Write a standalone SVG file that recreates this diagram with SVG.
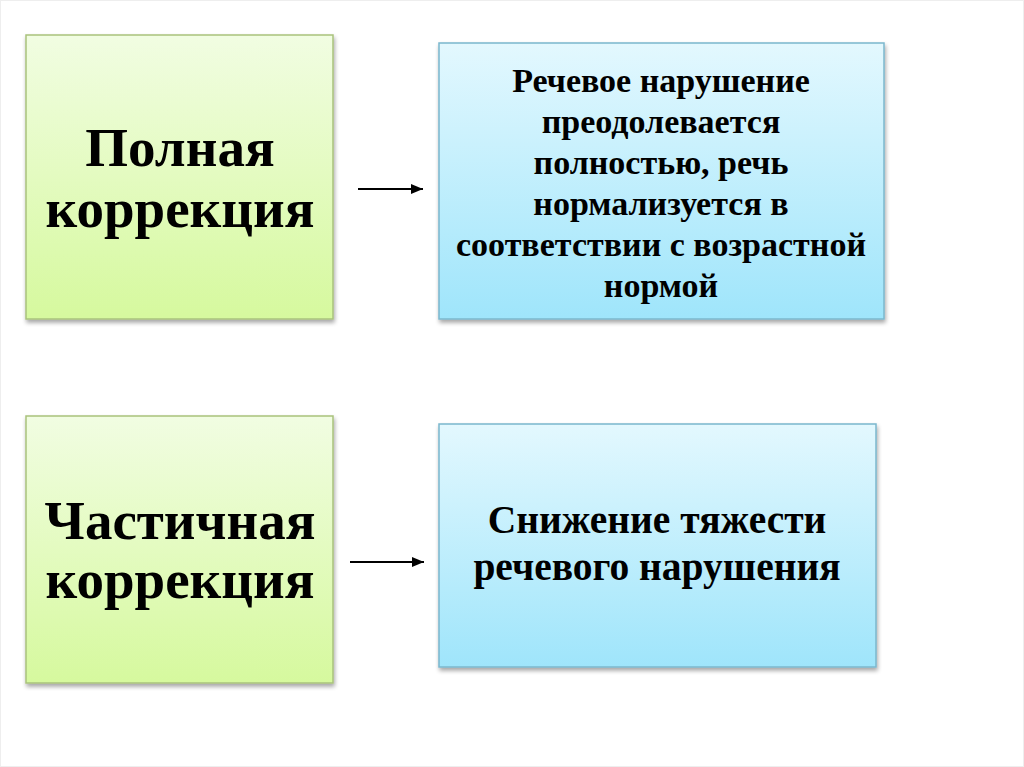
<svg xmlns="http://www.w3.org/2000/svg" width="1024" height="767" viewBox="0 0 1024 767">
<defs>
<linearGradient id="gGreen" x1="0" y1="0" x2="0" y2="1">
<stop offset="0" stop-color="#f1fde2"/>
<stop offset="1" stop-color="#d6f99e"/>
</linearGradient>
<linearGradient id="gBlue" x1="0" y1="0" x2="0" y2="1">
<stop offset="0" stop-color="#e3f8fe"/>
<stop offset="1" stop-color="#9fe5fb"/>
</linearGradient>
<filter id="sh" x="-5%" y="-5%" width="115%" height="115%">
<feGaussianBlur in="SourceAlpha" stdDeviation="2"/>
<feOffset dx="1" dy="3" result="b"/>
<feComponentTransfer><feFuncA type="linear" slope="0.35"/></feComponentTransfer>
<feMerge><feMergeNode/><feMergeNode in="SourceGraphic"/></feMerge>
</filter>
<marker id="ah" viewBox="0 0 12 10" refX="12" refY="5" markerWidth="12" markerHeight="10" markerUnits="userSpaceOnUse" orient="auto">
<path d="M0,0 L12,5 L0,10 z" fill="#000"/>
</marker>
<style>
.green{fill:url(#gGreen);stroke:#a9c27c;stroke-width:1.5}
.blue{fill:url(#gBlue);stroke:#7bb7cd;stroke-width:1.5}
.big{font-family:"Liberation Serif","Times New Roman",serif;font-weight:bold;font-size:55px;fill:#000;text-anchor:middle}
.mid{font-family:"Liberation Serif","Times New Roman",serif;font-weight:bold;font-size:39.5px;fill:#000;text-anchor:middle}
.sm{font-family:"Liberation Serif","Times New Roman",serif;font-weight:bold;font-size:34px;fill:#000;text-anchor:middle}
.conn{stroke:#000;stroke-width:2;fill:none}
</style>
</defs>
<rect x="0" y="0" width="1024" height="767" fill="#fff"/>
<rect x="0.5" y="0.5" width="1023" height="766" fill="none" stroke="#eeeeee"/>
<g id="node-full">
<rect class="green" x="26" y="35" width="307" height="284" filter="url(#sh)"/>
<text class="big" x="180" y="166">Полная</text>
<text class="big" x="180" y="227">коррекция</text>
</g>
<g id="node-full-desc">
<rect class="blue" x="439" y="43" width="445" height="276" filter="url(#sh)"/>
<text class="sm" x="661" y="92">Речевое нарушение</text>
<text class="sm" x="661" y="133">преодолевается</text>
<text class="sm" x="661" y="174">полностью, речь</text>
<text class="sm" x="661" y="215">нормализуется в</text>
<text class="sm" x="661" y="256">соответствии с возрастной</text>
<text class="sm" x="661" y="297">нормой</text>
</g>
<g id="node-partial">
<rect class="green" x="26" y="416" width="307" height="267" filter="url(#sh)"/>
<text class="big" x="180" y="539">Частичная</text>
<text class="big" x="180" y="598">коррекция</text>
</g>
<g id="node-partial-desc">
<rect class="blue" x="439" y="424" width="437" height="243" filter="url(#sh)"/>
<text class="mid" x="657" y="533">Снижение тяжести</text>
<text class="mid" x="657" y="580">речевого нарушения</text>
</g>
<g id="connectors">
<line class="conn" x1="358" y1="189" x2="423" y2="189" marker-end="url(#ah)"/>
<line class="conn" x1="350" y1="562" x2="424" y2="562" marker-end="url(#ah)"/>
</g>
</svg>
